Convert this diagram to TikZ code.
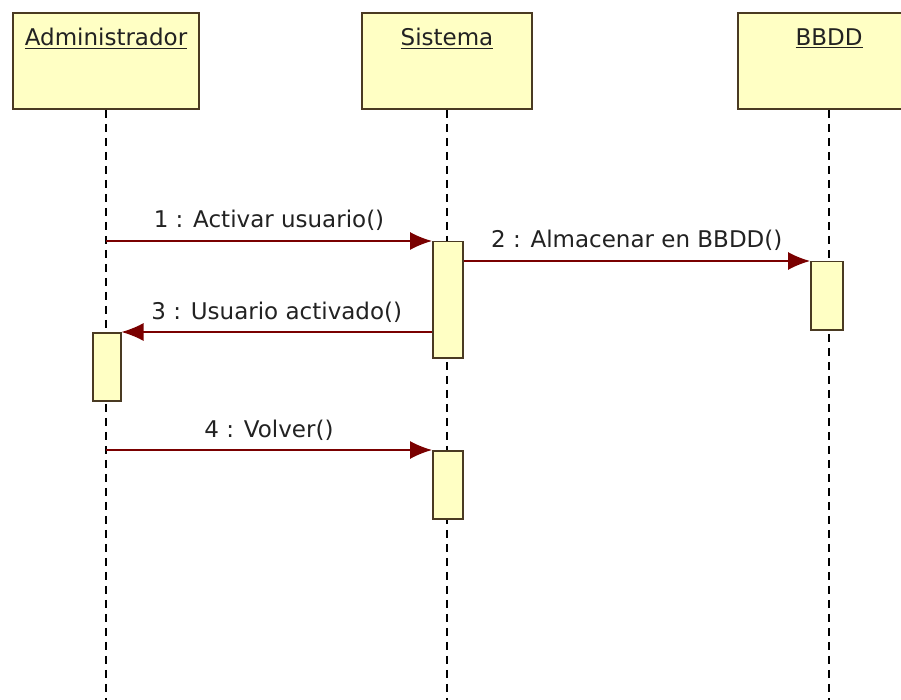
\documentclass[tikz,border=0pt]{standalone}
\usepackage{fontspec}
\setmainfont{DejaVu Sans}
\usepackage{tikz}
\usetikzlibrary{arrows.meta,positioning}
\definecolor{boxfill}{HTML}{FFFFC4}
\definecolor{boxline}{HTML}{4A3A22}
\definecolor{msgred}{HTML}{7A0000}
\definecolor{ink}{HTML}{222222}

\begin{document}
\begin{tikzpicture}[x=1pt,y=-1pt, every node/.style={font=\fontsize{23}{27}\selectfont,text=ink}, hdr/.style={draw=boxline,fill=boxfill,line width=1.8pt,minimum height=96pt,anchor=north,inner sep=0pt}, act/.style={draw=boxline,fill=boxfill,line width=1.5pt,minimum width=30pt,anchor=north west,inner sep=0pt}, life/.style={dashed,line width=1.6pt,dash pattern=on 8pt off 6pt}, msg/.style={draw=msgred,line width=1.4pt,-{Latex[length=22pt,width=18pt]}}, lbl/.style={anchor=base,yshift=13pt}]
\useasboundingbox (0,0) rectangle (901,700);
\fill[white] (0,0) rectangle (901,700);
\coordinate (bot) at (0,700);
% lifelines
\node[hdr,minimum width=186pt,label={[anchor=base,yshift=-34pt]north:\underline{Administrador}}] (adm) at (106,12) {};
\node[hdr,minimum width=170pt,label={[anchor=base,yshift=-34pt]north:\underline{Sistema}}] (sys) at (447,12) {};
\node[hdr,minimum width=182pt,label={[anchor=base,yshift=-34pt]north:\underline{BBDD}}] (bd) at (829,12) {};
\draw[life] (adm.south) -- (adm.south |- bot);
\draw[life] (sys.south) -- (sys.south |- bot);
\draw[life] (bd.south) -- (bd.south |- bot);
% activations
\node[act,minimum height=116pt] (sys1) at (432,241) {};
\node[act,minimum height=68pt,minimum width=28pt] (adm1) at (92,332) {};
\node[act,minimum height=68pt,minimum width=32pt] (bd1) at (810,261) {};
\node[act,minimum height=68pt] (sys2) at (432,450) {};
% messages
\coordinate (m1) at (adm.south |- sys1.north west);
\coordinate (m4) at (adm.south |- sys2.north west);
\draw[msg] (m1) -- (sys1.north west) node[midway,lbl] {1 : Activar usuario()};
\draw[msg] (sys1.east |- bd1.north west) -- (bd1.north west) node[midway,lbl] {2 : Almacenar en BBDD()};
\draw[msg] (sys1.west |- adm1.north east) -- (adm1.north east) node[midway,lbl] {3 : Usuario activado()};
\draw[msg] (m4) -- (sys2.north west) node[midway,lbl] {4 : Volver()};
\end{tikzpicture}
\end{document}
